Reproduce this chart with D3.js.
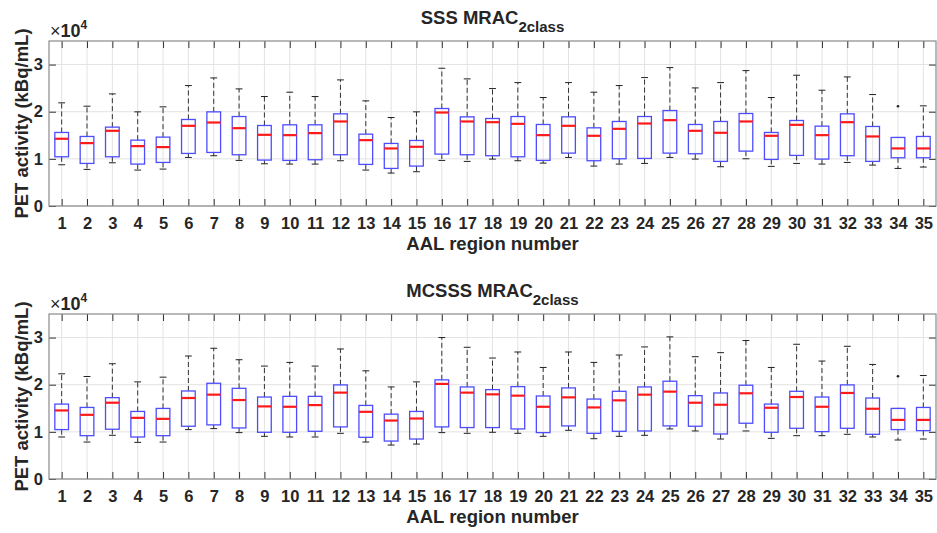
<!DOCTYPE html>
<html>
<head>
<meta charset="utf-8">
<script src="https://cdn.jsdelivr.net/npm/d3@7"></script>
<style>
  html, body { margin: 0; padding: 0; background: #fff; }
  svg { display: block; }
  text { font-family: "Liberation Sans", Arial, Helvetica, sans-serif; fill: #262626; }
</style>
</head>
<body>
<svg id="chart" width="937" height="533"></svg>
<script>
// ---------------- DATA ----------------
const categories = [1,2,3,4,5,6,7,8,9,10,11,12,13,14,15,16,17,18,19,20,21,22,23,24,25,26,27,28,29,30,31,32,33,34,35];
const yTicks = [0, 10000, 20000, 30000];

// Panel 1: SSS MRAC 2class
const sssMin = [8750,7760,9170,7620,7830,10300,10660,9670,8960,8890,8890,9600,7620,6990,7270,9670,9460,9950,9600,9100,10300,8470,8890,9030,10300,9950,8330,10020,8400,9030,8890,9240,8680,7970,8260];
const sssQ1  = [10440,9030,10440,8890,9240,11150,11360,10870,9740,9670,9810,10870,8820,7970,8470,11010,10870,10660,10440,9670,11220,9600,10020,10090,11220,11080,9460,11640,9880,10730,9950,10660,9460,10230,10230];
const sssMed = [14260,13340,15950,12700,12490,17010,17710,16510,15100,15030,15460,17930,13970,12210,12560,19830,17930,17780,17430,15030,17010,14890,16370,17500,18210,15950,15530,17930,14890,17220,15030,17780,14750,12210,12210];
const sssQ3  = [15600,14750,16730,13970,14610,18350,19970,18980,17080,17220,17220,19550,15240,13270,13900,20680,18910,18560,18980,17290,18910,16580,17930,18980,20250,17290,17930,19620,15600,18140,16940,19550,16870,14540,14750];
const sssMax = [21880,21170,23780,19970,21030,25550,27170,24840,23220,24140,23220,26750,22300,18770,19970,29220,26960,24910,26180,23010,26180,24140,25550,27240,29360,25050,26180,28720,23010,27740,24560,27380,23640,14540,21240];
const sssOutliers = [{region: 34, value: 21170}];

// Panel 2: MCSSS MRAC 2class
const mcsssMin = [8910,7840,9270,7770,7840,10480,10690,9840,9050,8910,8910,9690,7840,7200,7410,9840,9690,9910,9690,9050,10330,8550,9050,9270,10620,10190,8480,10190,8620,9190,9190,9480,8910,8270,8480];
const mcsssQ1  = [10480,9190,10550,8910,9190,11190,11480,10830,9910,9910,10120,11050,8840,8050,8480,11050,10910,10910,10620,9840,11260,9690,10120,10190,11260,11190,9550,11830,9910,10760,10050,10760,9480,10480,10260];
const mcsssMed = [14540,13610,16180,12970,12760,17180,17890,16750,15400,15320,15680,18320,14250,12400,12830,20170,18320,17960,17680,15320,17320,15180,16680,17890,18530,16180,15750,18180,15110,17390,15320,18250,14900,12540,12540];
const mcsssQ3  = [15890,15180,17250,14330,14970,18670,20310,19240,17390,17530,17530,19960,15610,13760,14330,21030,19530,18960,19600,17610,19320,16960,18600,19530,20740,17680,18250,19890,15890,18600,17390,19960,17180,14970,15180];
const mcsssMax = [22310,21740,24450,20600,21600,26090,27730,25300,23950,24730,23950,27580,22950,19530,20600,30010,27940,25660,26940,23660,26940,24730,26300,28010,30150,25940,26800,29370,23660,28580,25020,28150,24300,14970,21950];
const mcsssOutliers = [{region: 34, value: 21810}];

const panels = [
  {title: "SSS MRAC", sub: "2class", min: sssMin, q1: sssQ1, med: sssMed, q3: sssQ3, max: sssMax, out: sssOutliers, top: 41, bottom: 206},
  {title: "MCSSS MRAC", sub: "2class", min: mcsssMin, q1: mcsssQ1, med: mcsssMed, q3: mcsssQ3, max: mcsssMax, out: mcsssOutliers, top: 314, bottom: 479}
];

// ---------------- DRAW ----------------
const svg = d3.select("#chart");
const left = 49, right = 936;
const x = d3.scaleLinear().domain([0.5, 35.5]).range([left, right]);
const step = x(2) - x(1);
const boxW = step * 0.54;
const capW = step * 0.27;

panels.forEach(p => {
  const y = d3.scaleLinear().domain([0, 35000]).range([p.bottom, p.top]);
  const g = svg.append("g");

  // grid
  g.append("g").selectAll("line").data(categories).join("line")
    .attr("x1", d => x(d)).attr("x2", d => x(d))
    .attr("y1", p.top).attr("y2", p.bottom)
    .attr("stroke", "#e3e3e3").attr("stroke-width", 1);
  g.append("g").selectAll("line").data(yTicks).join("line")
    .attr("x1", left).attr("x2", right)
    .attr("y1", d => y(d)).attr("y2", d => y(d))
    .attr("stroke", "#e3e3e3").attr("stroke-width", 1);

  // axes (inward ticks)
  const ax = g.append("g").attr("transform", `translate(0,${p.bottom})`)
    .call(d3.axisBottom(x).tickValues(categories).tickSize(-7).tickPadding(11.5).tickFormat(d3.format("d")));
  const axT = g.append("g").attr("transform", `translate(0,${p.top})`)
    .call(d3.axisTop(x).tickValues(categories).tickSize(-7).tickFormat(""));
  const ayL = g.append("g").attr("transform", `translate(${left},0)`)
    .call(d3.axisLeft(y).tickValues(yTicks).tickSize(-7).tickPadding(6).tickFormat(d => d / 10000));
  const ayR = g.append("g").attr("transform", `translate(${right},0)`)
    .call(d3.axisRight(y).tickValues(yTicks).tickSize(-7).tickFormat(""));
  [ax, axT, ayL, ayR].forEach(a => {
    a.select(".domain").remove();
    a.selectAll(".tick line").attr("stroke", "#333").attr("stroke-width", 1);
    a.selectAll(".tick text").attr("font-size", 16.5).attr("font-weight", "bold")
      .attr("font-family", '"Liberation Sans", Arial, sans-serif').attr("fill", "#262626");
  });

  // frame
  g.append("rect").attr("x", left).attr("y", p.top)
    .attr("width", right - left).attr("height", p.bottom - p.top)
    .attr("fill", "none").attr("stroke", "#8a8a8a").attr("stroke-width", 1.2);

  // boxes
  const data = categories.map((c, i) => ({c, min: p.min[i], q1: p.q1[i], med: p.med[i], q3: p.q3[i], max: p.max[i]}));
  const bg = g.append("g").selectAll("g").data(data).join("g");
  // whiskers (dashed)
  bg.append("line").attr("x1", d => x(d.c)).attr("x2", d => x(d.c))
    .attr("y1", d => y(d.q3)).attr("y2", d => y(d.max))
    .attr("stroke", "#333").attr("stroke-width", 1).attr("stroke-dasharray", "5,3");
  bg.append("line").attr("x1", d => x(d.c)).attr("x2", d => x(d.c))
    .attr("y1", d => y(d.q1)).attr("y2", d => y(d.min))
    .attr("stroke", "#333").attr("stroke-width", 1).attr("stroke-dasharray", "5,3");
  // caps
  bg.append("line").attr("x1", d => x(d.c) - capW / 2).attr("x2", d => x(d.c) + capW / 2)
    .attr("y1", d => y(d.max)).attr("y2", d => y(d.max))
    .attr("stroke", "#222").attr("stroke-width", 1);
  bg.append("line").attr("x1", d => x(d.c) - capW / 2).attr("x2", d => x(d.c) + capW / 2)
    .attr("y1", d => y(d.min)).attr("y2", d => y(d.min))
    .attr("stroke", "#222").attr("stroke-width", 1);
  // box
  bg.append("rect").attr("x", d => x(d.c) - boxW / 2).attr("width", boxW)
    .attr("y", d => y(d.q3)).attr("height", d => y(d.q1) - y(d.q3))
    .attr("fill", "none").attr("stroke", "#4d4dff").attr("stroke-width", 1.3);
  // median
  bg.append("line").attr("x1", d => x(d.c) - boxW / 2).attr("x2", d => x(d.c) + boxW / 2)
    .attr("y1", d => y(d.med)).attr("y2", d => y(d.med))
    .attr("stroke", "#ff1a1a").attr("stroke-width", 2.2);
  // outliers
  g.append("g").selectAll("circle").data(p.out).join("circle")
    .attr("cx", d => x(d.region)).attr("cy", d => y(d.value)).attr("r", 1.3)
    .attr("fill", "#222");

  // x10^4 label
  const ex = g.append("text").attr("x", 50).attr("y", p.top - 4.5).attr("font-size", 18);
  ex.append("tspan").attr("font-weight", "normal").text("×");
  ex.append("tspan").attr("font-weight", "bold").text("10");
  ex.append("tspan").attr("font-weight", "bold").attr("font-size", 12).attr("dy", -8).text("4");

  // title
  const t = g.append("text").attr("x", (left + right) / 2).attr("y", p.top - 17)
    .attr("text-anchor", "middle").attr("font-weight", "bold").attr("font-size", 18.5);
  t.append("tspan").text(p.title);
  t.append("tspan").attr("font-size", 15).attr("dy", 8).text(p.sub);

  // x label
  g.append("text").attr("x", (left + right) / 2).attr("y", p.bottom + 44)
    .attr("text-anchor", "middle").attr("font-weight", "bold").attr("font-size", 18.5)
    .text("AAL region number");
  // y label
  g.append("text").attr("transform", `translate(28,${(p.top + p.bottom) / 2}) rotate(-90)`)
    .attr("text-anchor", "middle").attr("font-weight", "bold").attr("font-size", 18.5)
    .text("PET activity (kBq/mL)");
});
</script>
</body>
</html>
